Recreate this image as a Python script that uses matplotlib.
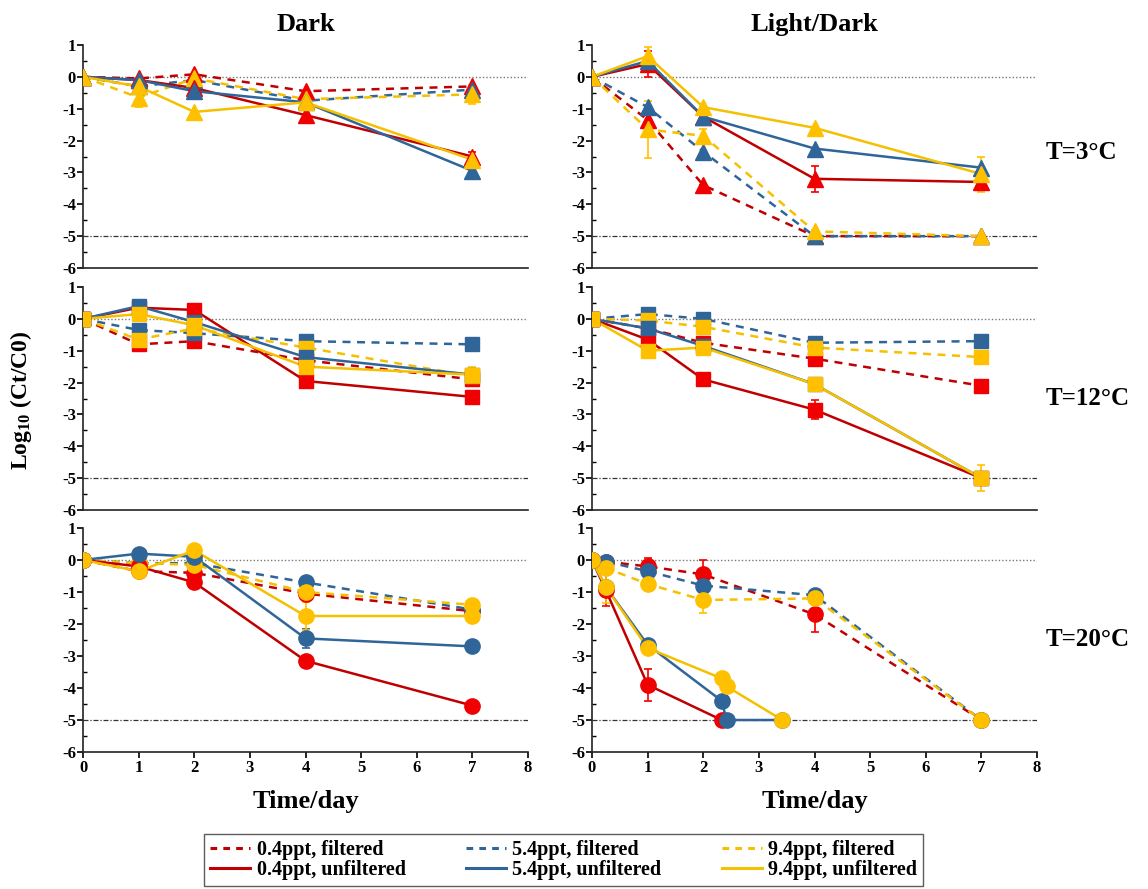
import matplotlib
matplotlib.use("Agg")
import matplotlib.pyplot as plt
from matplotlib.lines import Line2D
from matplotlib.ticker import MultipleLocator

plt.rcParams['font.family'] = ['Liberation Serif', 'DejaVu Serif']
plt.rcParams['font.weight'] = 'bold'
plt.rcParams['axes.unicode_minus'] = False
plt.rcParams['mathtext.fontset'] = 'custom'
plt.rcParams['mathtext.rm'] = 'Liberation Serif:bold'
plt.rcParams['mathtext.it'] = 'Liberation Serif:bold'
plt.rcParams['mathtext.bf'] = 'Liberation Serif:bold'

# ---------------- data ----------------
days = [0, 1, 2, 4, 7]
days_ld20_filt = [0, 0.25, 1, 2, 4, 7]
days_ld20_unf_red = [0, 0.25, 1, 2.33]
days_ld20_unf = [0, 0.25, 1, 2.33, 2.42, 3.42]

series_keys = ['r_f', 'r_u', 'b_f', 'b_u', 'y_f', 'y_u']
series_labels = ['0.4ppt, filtered', '0.4ppt, unfiltered',
                 '5.4ppt, filtered', '5.4ppt, unfiltered',
                 '9.4ppt, filtered', '9.4ppt, unfiltered']

# Dark, T=3
dark_3 = {
    'r_f': [0, -0.05, 0.08, -0.45, -0.3],
    'b_f': [0, -0.3, -0.1, -0.75, -0.4],
    'y_f': [0, -0.65, -0.05, -0.7, -0.55],
    'r_u': [0, -0.1, -0.35, -1.2, -2.5],
    'b_u': [0, -0.1, -0.45, -0.8, -2.95],
    'y_u': [0, -0.3, -1.1, -0.8, -2.6],
}
dark_3_err = {'y_f': [0, 0.3, 0, 0, 0.3], 'r_u': [0, 0, 0, 0.2, 0.15]}

# Light/Dark, T=3
ld_3 = {
    'r_f': [0, -1.35, -3.4, -5, -5],
    'b_f': [0, -0.95, -2.35, -5, -5],
    'y_f': [0, -1.65, -1.85, -4.85, -5],
    'r_u': [0, 0.4, -1.25, -3.2, -3.3],
    'b_u': [0, 0.5, -1.25, -2.25, -2.85],
    'y_u': [0, 0.65, -0.95, -1.6, -3.05],
}
ld_3_err = {'y_f': [0, 0.9, 0.2, 0, 0], 'r_u': [0, 0.4, 0, 0.4, 0.2],
            'y_u': [0, 0.3, 0, 0, 0.55], 'r_f': [0, 0.35, 0, 0, 0]}

# Dark, T=12
dark_12 = {
    'r_f': [0, -0.8, -0.7, -1.3, -1.9],
    'b_f': [0, -0.35, -0.45, -0.7, -0.8],
    'y_f': [0, -0.65, -0.3, -0.9, -1.8],
    'r_u': [0, 0.35, 0.28, -1.95, -2.45],
    'b_u': [0, 0.4, -0.1, -1.2, -1.75],
    'y_u': [0, 0.15, -0.2, -1.5, -1.75],
}
dark_12_err = {'y_f': [0, 0.15, 0.15, 0.2, 0.3], 'r_f': [0, 0.15, 0, 0.15, 0]}

# Light/Dark, T=12
ld_12 = {
    'r_f': [0, -0.3, -0.75, -1.25, -2.1],
    'b_f': [0, 0.15, 0.0, -0.75, -0.7],
    'y_f': [0, -0.05, -0.25, -0.9, -1.2],
    'r_u': [0, -0.65, -1.9, -2.85, -5],
    'b_u': [0, -0.3, -0.85, -2.05, -5],
    'y_u': [0, -1.0, -0.9, -2.05, -5],
}
ld_12_err = {'r_u': [0, 0, 0, 0.3, 0], 'y_u': [0, 0, 0, 0.1, 0.4]}

# Dark, T=20
dark_20 = {
    'r_f': [0, -0.35, -0.4, -1.05, -1.6],
    'b_f': [0, -0.1, -0.1, -0.7, -1.55],
    'y_f': [0, -0.1, -0.15, -1.0, -1.4],
    'r_u': [0, -0.2, -0.7, -3.15, -4.55],
    'b_u': [0, 0.2, 0.1, -2.45, -2.7],
    'y_u': [0, -0.35, 0.3, -1.75, -1.75],
}
dark_20_err = {'y_u': [0, 0, 0, 0.45, 0.1], 'b_u': [0, 0, 0, 0.3, 0]}

# Light/Dark, T=20
ld_20_filt = {
    'r_f': [0, -0.05, -0.2, -0.45, -1.7, -5],
    'b_f': [0, -0.05, -0.35, -0.8, -1.1, -5],
    'y_f': [0, -0.25, -0.75, -1.25, -1.2, -5],
}
ld_20_filt_err = {'r_f': [0, 0, 0.25, 0.45, 0.55, 0],
                  'y_f': [0, 0, 0, 0.4, 0.2, 0]}
ld_20_unf = {
    'r_u': [0, -0.95, -3.9, -5],
    'b_u': [0, -0.85, -2.65, -4.4, -5, -5],
    'y_u': [0, -0.85, -2.75, -3.7, -3.95, -5],
}
ld_20_unf_err = {'r_u': [0, 0.5, 0.5, 0], 'y_u': [0, 0.5, 0.15, 0, 0, 0]}

col_titles = ['Dark', 'Light/Dark']
row_labels = ['T=3°C', 'T=12°C', 'T=20°C']
xticks = [0, 1, 2, 3, 4, 5, 6, 7, 8]
yticks = [1, 0, -1, -2, -3, -4, -5, -6]

# ---------------- styles ----------------
line_col = {'r': '#C00000', 'b': '#2F6598', 'y': '#F5C000'}
mark_col = {'r': '#F00000', 'b': '#2F6598', 'y': '#FFC000'}
row_marker = ['^', 's', 'o']

fig = plt.figure(figsize=(11.48, 8.89), dpi=100)

lefts = [83 / 1148, 592 / 1148]
width = 445 / 1148
rows_px = [(45, 268), (287, 510), (528, 752)]


def draw_series(ax, x, y, key, marker, err=None):
    c = key[0]
    ls = (0, (3.2, 2.6)) if key.endswith('f') else '-'
    ax.plot(x, y, linestyle=ls, color=line_col[c], lw=1.8, zorder=3)
    if err is not None:
        ax.errorbar(x, y, yerr=err, fmt='none', ecolor=mark_col[c],
                    elinewidth=1.2, capsize=3, capthick=1.2, zorder=4)
    ax.plot(x, y, linestyle='none', marker=marker, ms=11 if marker != 's' else 10.5,
            color=mark_col[c], mec=mark_col[c], zorder=5)


panels = [
    [(dark_3, dark_3_err), (ld_3, ld_3_err)],
    [(dark_12, dark_12_err), (ld_12, ld_12_err)],
    [(dark_20, dark_20_err), None],
]

for r in range(3):
    top, bot = rows_px[r]
    for cidx in range(2):
        ax = fig.add_axes([lefts[cidx], 1 - bot / 889, width, (bot - top) / 889])
        ax.set_xlim(0, 8)
        ax.set_ylim(-6, 1)
        for s in ['top', 'right']:
            ax.spines[s].set_visible(False)
        for s in ['left', 'bottom']:
            ax.spines[s].set_linewidth(1.2)
            ax.spines[s].set_color('#222222')
        ax.axhline(0, color='#777777', lw=1.0, ls=(0, (1, 1.5)), zorder=1)
        ax.axhline(-5, color='#333333', lw=0.9, ls=(0, (4, 1.5, 1, 1.5)), zorder=1)
        ax.set_yticks(yticks)
        ax.yaxis.set_minor_locator(MultipleLocator(0.5))
        ax.tick_params(axis='y', which='major', direction='out', length=4, width=1.2,
                       labelsize=12, pad=1)
        ax.tick_params(axis='y', which='minor', direction='in', length=3, width=1.0)
        ax.set_xticks(xticks)
        if r < 2:
            ax.tick_params(axis='x', which='both', length=0, labelbottom=False)
        else:
            ax.tick_params(axis='x', direction='out', length=4, width=1.2,
                           labelsize=12, pad=2)
            ax.set_xlabel('Time/day', fontsize=19, fontweight='bold', labelpad=10)
        for lab in ax.get_xticklabels() + ax.get_yticklabels():
            lab.set_fontweight('bold')
        if r == 0:
            ax.set_title(col_titles[cidx], fontsize=19, fontweight='bold', pad=10)
        marker = row_marker[r]
        if panels[r][cidx] is not None:
            data, errs = panels[r][cidx]
            for key in ['r_f', 'b_f', 'y_f', 'r_u', 'b_u', 'y_u']:
                draw_series(ax, days, data[key], key, marker, errs.get(key))
        else:
            for key in ['r_f', 'b_f', 'y_f']:
                draw_series(ax, days_ld20_filt, ld_20_filt[key], key, marker,
                            ld_20_filt_err.get(key))
            draw_series(ax, days_ld20_unf_red, ld_20_unf['r_u'], 'r_u', marker,
                        ld_20_unf_err.get('r_u'))
            for key in ['b_u', 'y_u']:
                draw_series(ax, days_ld20_unf, ld_20_unf[key], key, marker,
                            ld_20_unf_err.get(key))
        if cidx == 1:
            ax.text(1.02, 0.5 + (0.02 if r == 0 else 0), row_labels[r], transform=ax.transAxes,
                    fontsize=18, fontweight='bold', va='center', ha='left')

fig.text(0.018, 1 - 400 / 889, r'Log$_{10}$ (Ct/C0)', rotation=90, fontsize=17,
         fontweight='bold', va='center', ha='center')

handles = []
for key, lab in zip(series_keys, series_labels):
    ls = (0, (2.2, 2.0)) if key.endswith('f') else '-'
    handles.append(Line2D([0], [0], color=line_col[key[0]], lw=2.2, ls=ls, label=lab))
leg = fig.legend(handles=handles, loc='lower center', bbox_to_anchor=(0.491, -0.008),
                 ncol=3, frameon=True, fancybox=False, edgecolor='#333333',
                 prop={'family': 'Liberation Serif', 'weight': 'bold', 'size': 14.5},
                 handlelength=2.0, handletextpad=0.3, columnspacing=3.0,
                 labelspacing=0.0, borderpad=0.3)
leg.get_frame().set_linewidth(1.0)

fig.savefig('out.png', dpi=100)
